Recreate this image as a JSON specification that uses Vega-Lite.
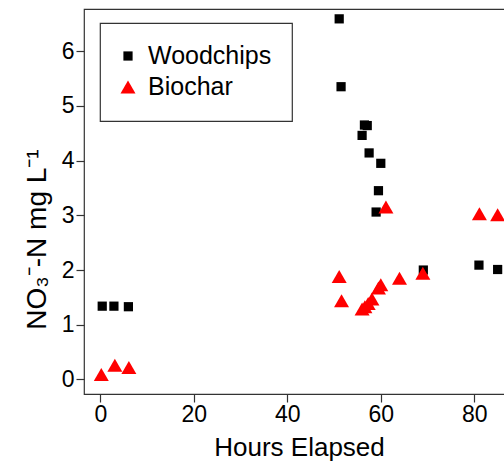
{
  "$schema": "https://vega.github.io/schema/vega-lite/v6.json",
  "width": 430,
  "height": 385,
  "autosize": {"type": "none"},
  "padding": {"left": 84, "top": 9, "right": -10, "bottom": 68},
  "background": "white",
  "config": {
    "font": "Liberation Sans",
    "view": {"stroke": "#333", "strokeWidth": 1.2},
    "legend": {
      "orient": "none",
      "legendX": 16,
      "legendY": 14,
      "padding": 20.5,
      "strokeColor": "#333",
      "strokeWidth": 1.2,
      "labelFontSize": 25,
      "labelColor": "black",
      "labelOffset": 7.5,
      "symbolOffset": -5,
      "rowPadding": 5,
      "symbolStrokeWidth": 0,
      "symbolOpacity": 1
    }
  },
  "data": {
    "values": [
      {"hours": 0.4, "no3": 1.34, "series": "Woodchips"},
      {"hours": 2.9, "no3": 1.34, "series": "Woodchips"},
      {"hours": 6.0, "no3": 1.33, "series": "Woodchips"},
      {"hours": 51.1, "no3": 6.59, "series": "Woodchips"},
      {"hours": 51.5, "no3": 5.35, "series": "Woodchips"},
      {"hours": 56.5, "no3": 4.65, "series": "Woodchips"},
      {"hours": 57.1, "no3": 4.64, "series": "Woodchips"},
      {"hours": 56.0, "no3": 4.46, "series": "Woodchips"},
      {"hours": 57.5, "no3": 4.14, "series": "Woodchips"},
      {"hours": 60.0, "no3": 3.95, "series": "Woodchips"},
      {"hours": 59.5, "no3": 3.45, "series": "Woodchips"},
      {"hours": 59.0, "no3": 3.06, "series": "Woodchips"},
      {"hours": 69.1, "no3": 2.0, "series": "Woodchips"},
      {"hours": 81.0, "no3": 2.09, "series": "Woodchips"},
      {"hours": 85.0, "no3": 2.01, "series": "Woodchips"},
      {"hours": 0.2, "no3": 0.09, "series": "Biochar"},
      {"hours": 3.1, "no3": 0.26, "series": "Biochar"},
      {"hours": 6.1, "no3": 0.22, "series": "Biochar"},
      {"hours": 51.1, "no3": 1.88, "series": "Biochar"},
      {"hours": 51.6, "no3": 1.44, "series": "Biochar"},
      {"hours": 56.0, "no3": 1.29, "series": "Biochar"},
      {"hours": 56.6, "no3": 1.33, "series": "Biochar"},
      {"hours": 57.3, "no3": 1.39, "series": "Biochar"},
      {"hours": 58.1, "no3": 1.47, "series": "Biochar"},
      {"hours": 59.5, "no3": 1.67, "series": "Biochar"},
      {"hours": 60.0, "no3": 1.73, "series": "Biochar"},
      {"hours": 61.1, "no3": 3.15, "series": "Biochar"},
      {"hours": 64.0, "no3": 1.85, "series": "Biochar"},
      {"hours": 69.0, "no3": 1.94, "series": "Biochar"},
      {"hours": 81.1, "no3": 3.03, "series": "Biochar"},
      {"hours": 85.0, "no3": 3.01, "series": "Biochar"}
    ]
  },
  "mark": {"type": "point", "filled": true, "opacity": 1, "strokeWidth": 0},
  "encoding": {
    "x": {
      "field": "hours",
      "type": "quantitative",
      "scale": {"domain": [-3.5, 88.5], "nice": false, "zero": false},
      "axis": {
        "values": [0, 20, 40, 60, 80],
        "title": "Hours Elapsed",
        "titleFontSize": 26,
        "titleFontWeight": "normal",
        "titleColor": "black",
        "titleX": 215,
        "titleY": 61,
        "titleBaseline": "alphabetic",
        "labelFontSize": 23,
        "labelColor": "black",
        "labelPadding": 1,
        "tickSize": 8,
        "tickColor": "#333",
        "tickWidth": 1.2,
        "domain": false,
        "grid": false
      }
    },
    "y": {
      "field": "no3",
      "type": "quantitative",
      "scale": {"domain": [-0.265, 6.77], "nice": false, "zero": false},
      "axis": {
        "values": [0, 1, 2, 3, 4, 5, 6],
        "title": "NO₃⁻-N mg L⁻¹",
        "titleFontSize": 28,
        "titleFontWeight": "normal",
        "titleColor": "black",
        "titleX": -39,
        "titleY": 230,
        "titleAlign": "center",
        "titleBaseline": "alphabetic",
        "labelFontSize": 23,
        "labelColor": "black",
        "labelPadding": 2,
        "tickSize": 8,
        "tickColor": "#333",
        "tickWidth": 1.2,
        "domain": false,
        "grid": false
      }
    },
    "shape": {
      "field": "series",
      "type": "nominal",
      "scale": {"domain": ["Woodchips", "Biochar"], "range": ["square", "triangle-up"]},
      "legend": {"title": null}
    },
    "color": {
      "field": "series",
      "type": "nominal",
      "scale": {"domain": ["Woodchips", "Biochar"], "range": ["black", "#ff0000"]},
      "legend": {"title": null}
    },
    "size": {
      "field": "series",
      "type": "nominal",
      "scale": {"domain": ["Woodchips", "Biochar"], "range": [85, 225]},
      "legend": {"title": null}
    }
  }
}
